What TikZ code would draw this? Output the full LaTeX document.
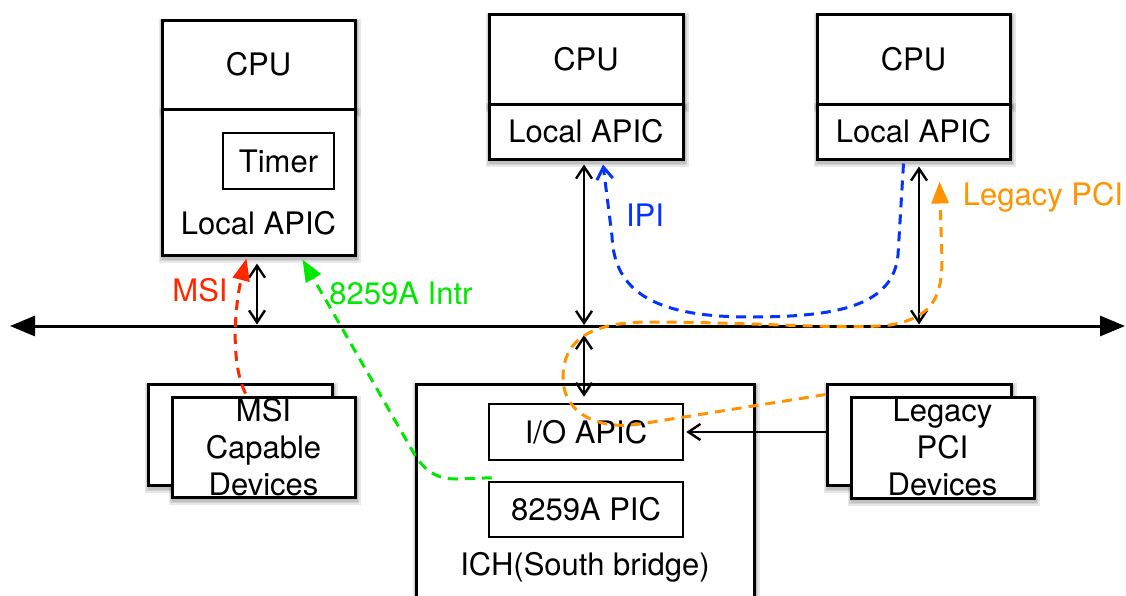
\documentclass[tikz,border=0pt]{standalone}
\usepackage{fontspec}
\setmainfont{TeX Gyre Heros}
\usetikzlibrary{arrows.meta,backgrounds}
\definecolor{msired}{RGB}{255,38,0}
\definecolor{intgreen}{RGB}{0,232,0}
\definecolor{ipiblue}{RGB}{4,51,255}
\definecolor{pciorange}{RGB}{255,147,0}
\tikzset{
  box/.style={draw, line width=3pt, fill=white, inner sep=0pt,
    font=\fontsize{31}{37}\selectfont},
  plainbox/.style={draw, line width=2.5pt, fill=white, inner sep=0pt,
    font=\fontsize{31}{37}\selectfont},
  lbl/.style={inner sep=0pt, font=\fontsize{31}{37}\selectfont, align=center},
  bus/.style={line width=3pt,
    {Triangle[length=25pt,width=20pt]}-{Triangle[length=25pt,width=20pt]}},
  dbl/.style={line width=2.4pt,
    {Straight Barb[length=12pt,width=16pt]}-{Straight Barb[length=12pt,width=16pt]}},
  sgl/.style={line width=2.4pt, -{Straight Barb[length=12pt,width=16pt]}},
  flow/.style={line width=3pt, dash pattern=on 10pt off 7pt},
  tip/.style={-{Triangle[length=22pt,width=17pt]}},
  barbtip/.style={-{Straight Barb[length=12pt,width=16pt]}},
  shadowlayer/.style={fill=black, opacity=0.09},
}
\begin{document}
\begin{tikzpicture}[x=1pt,y=-1pt]
\clip (0,0) rectangle (1126,595);

% processors with their local APICs
\node[box, minimum width=193pt, minimum height=89pt] (cpu1) at (258.5,64.5) {CPU};
\node[box, minimum width=193pt, minimum height=146pt] (lapic1) at (258.5,182) {};
\node[plainbox, minimum width=111pt, minimum height=56pt] (timer) at (278.5,161) {Timer};
\node[lbl] (lapic1t) at (258.5,223) {Local APIC};

\node[box, minimum width=194pt, minimum height=90pt] (cpu2) at (586,59) {CPU};
\node[box, minimum width=194pt, minimum height=55pt] (lapic2) at (586,131.5) {Local APIC};

\node[box, minimum width=193pt, minimum height=90pt] (cpu3) at (913.5,59) {CPU};
\node[box, minimum width=193pt, minimum height=55pt] (lapic3) at (913.5,131.5) {Local APIC};

% system bus
\coordinate (busL) at (10,326);
\coordinate (busR) at (1125,326);
\coordinate (b1) at (257,326);
\coordinate (b2) at (584,326);
\coordinate (b3) at (919,326);
\draw[bus] (busL) -- (busR);

% south bridge
\node[box, minimum width=338pt, minimum height=266pt] (ich) at (585,517) {};
\node[plainbox, minimum width=194pt, minimum height=56pt] (ioapic) at (586,432) {I/O APIC};
\node[plainbox, minimum width=194pt, minimum height=55pt] (pic) at (586,509.5) {8259A PIC};
\node[lbl] (icht) at (585,567) {ICH(South bridge)};

% devices
\node[box, minimum width=184pt, minimum height=101pt] (msiback) at (240,434.5) {};
\node[box, minimum width=183pt, minimum height=100pt] (msifront) at (263.5,447) {};
\node[lbl] (msit) at (263.5,447) {MSI\\Capable\\Devices};

\node[box, minimum width=184pt, minimum height=101pt] (pciback) at (919,434.5) {};
\node[box, minimum width=183pt, minimum height=101pt] (pcifront) at (942.5,447.5) {};
\node[lbl] (pcit) at (942.5,447.5) {Legacy\\PCI\\Devices};

% soft drop shadows behind the framed boxes
\begin{scope}[on background layer]
  \foreach \n in {cpu1,lapic1,cpu2,lapic2,cpu3,lapic3,ich,msiback,msifront,pciback,pcifront}{
    \foreach \k in {0,1.5,3}{
      \fill[shadowlayer] ([shift={(1-\k,3+\k)}]\n.south west)
        rectangle ([shift={(1+\k,3-\k)}]\n.north east);
    }
  }
\end{scope}

% bus connections
\draw[dbl, shorten <=7pt, shorten >=1.5pt] (lapic1.south -| b1) -- (b1);
\draw[dbl, shorten <=4pt, shorten >=1pt] (lapic2.south -| b2) -- (b2);
\draw[dbl, shorten <=9pt, shorten >=6pt] (b2) -- (ioapic.north -| b2);
\draw[dbl, shorten <=6pt, shorten >=1.5pt] (lapic3.south -| b3) -- (b3);
\draw[sgl, shorten >=2pt] (pciback.west |- ioapic.east) -- (ioapic.east);

% interrupt paths
\draw[flow, tip, msired] ([xshift=-18pt,yshift=2pt]msifront.north)
  .. controls (229,360) and (236,300) .. ([xshift=-12pt,yshift=-2pt]lapic1.south);
\node[lbl, text=msired] (msil) at (200,290) {MSI};

\draw[flow, tip, intgreen] ([xshift=4pt,yshift=3pt]pic.north west)
  -- (456,479) .. controls (432,479) and (421,466) .. (412,450)
  -- ([xshift=44pt,yshift=-3pt]lapic1.south);
\node[lbl, text=intgreen] (intl) at (401,293) {8259A Intr};

\draw[flow, barbtip, ipiblue] ([xshift=-10pt,yshift=-3pt]lapic3.south)
  -- (898,255) .. controls (893,305) and (840,317) .. (750,317)
  .. controls (655,317) and (614,292) .. (612,236)
  -- ([xshift=17pt,yshift=-4pt]lapic2.south);
\node[lbl, text=ipiblue] (ipil) at (645,215) {IPI};

\draw[flow, tip, pciorange] ([yshift=-12pt]pciback.north west)
  -- (640,424) .. controls (600,430) and (565,415) .. (563,380)
  .. controls (562,340) and (590,322) .. (650,322)
  .. controls (750,322) and (850,330) .. (890,325)
  .. controls (930,318) and (942,300) .. (942,260)
  -- ([xshift=26pt,yshift=-21pt]lapic3.south);
\node[lbl, text=pciorange] (pcil) at (1043,197) {Legacy PCI};
\end{tikzpicture}
\end{document}
